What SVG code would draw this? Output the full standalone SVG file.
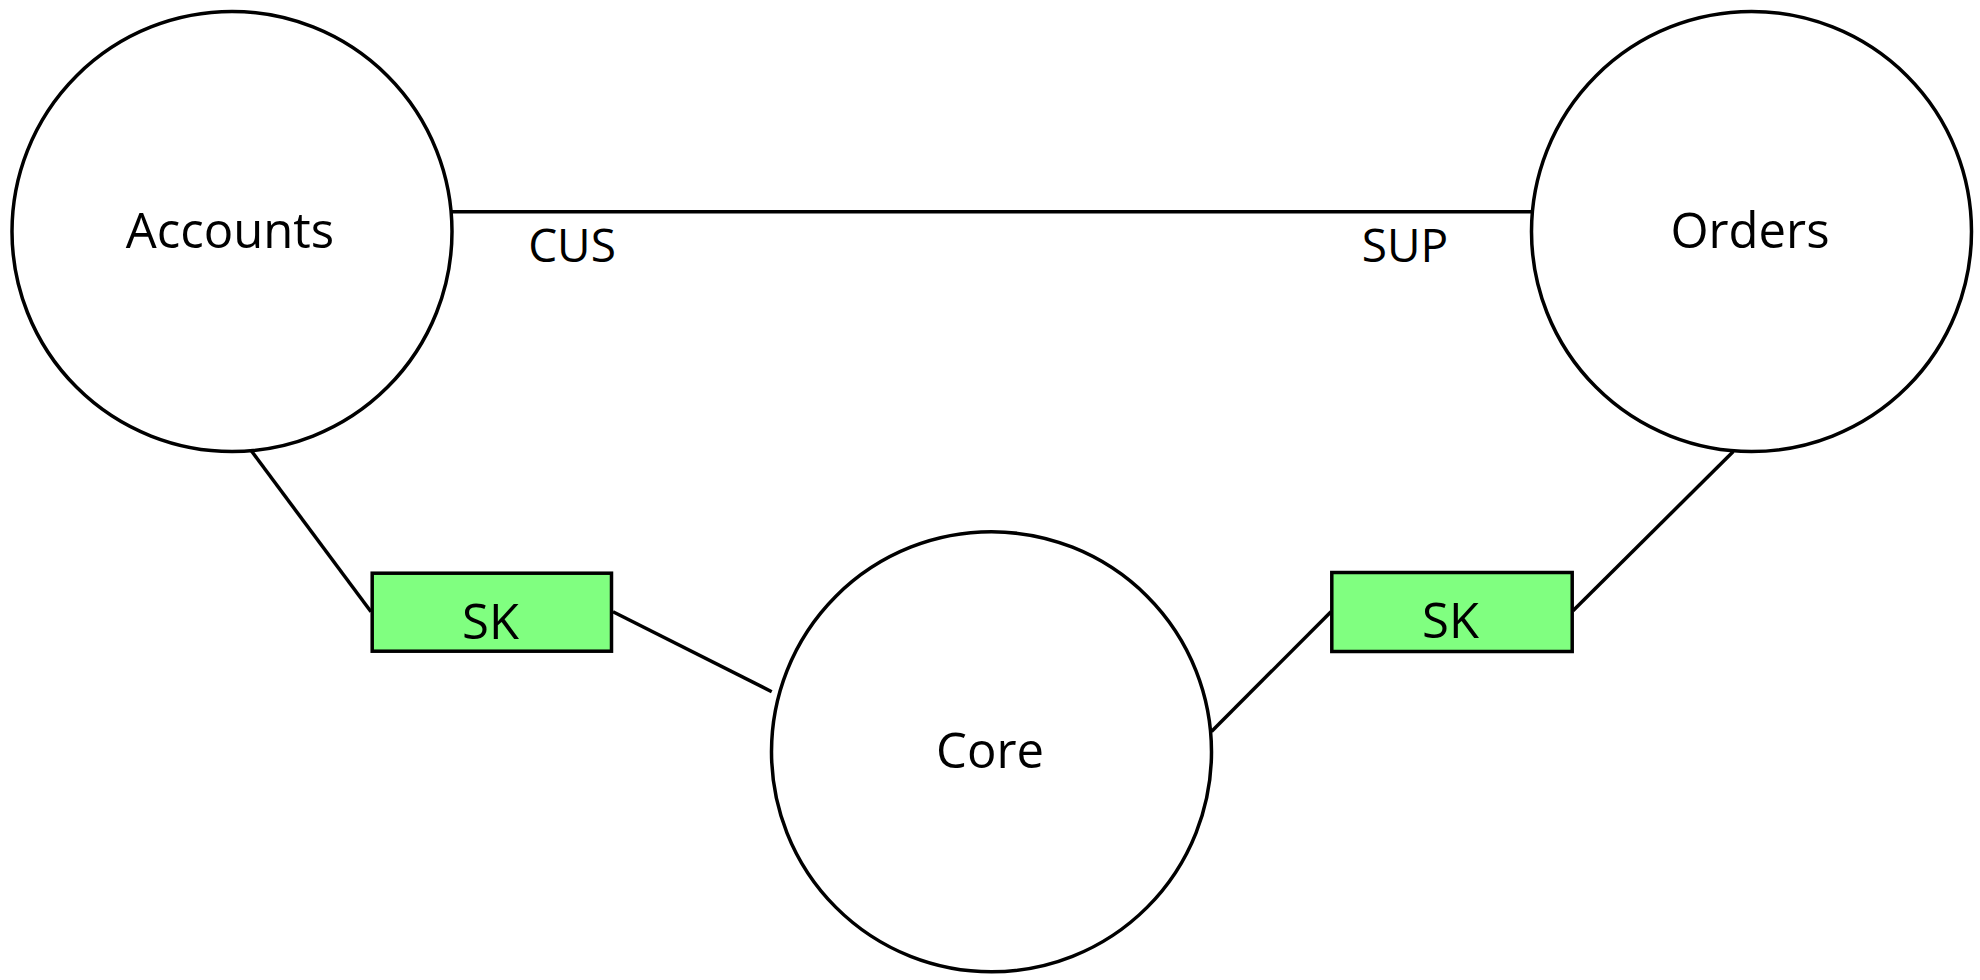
<svg xmlns="http://www.w3.org/2000/svg" width="1980" height="980" viewBox="0 0 1980 980">
<style>
.node{fill:#ffffff;stroke:#000000;stroke-width:3.5}
.sk{fill:#80ff80;stroke:#000000;stroke-width:3.5}
.edge{stroke:#000000;stroke-width:3.5;fill:none}
.t{font-family:"Open Sans","Noto Sans","DejaVu Sans",sans-serif;font-size:49px;fill:#000000;text-anchor:middle}
.lbl{font-family:"Open Sans","Noto Sans","DejaVu Sans",sans-serif;font-size:46px;fill:#000000;text-anchor:middle}
</style>
<rect width="1980" height="980" fill="#ffffff"/>
<g id="connectors">
<line class="edge" x1="451.7" y1="211.7" x2="1531.7" y2="211.7"/>
<line class="edge" x1="251.3" y1="450.8" x2="371" y2="611.7"/>
<line class="edge" x1="613" y1="611.7" x2="771.7" y2="691.7"/>
<line class="edge" x1="1211.5" y1="731.5" x2="1331" y2="611.7"/>
<line class="edge" x1="1573" y1="610.7" x2="1733.3" y2="451.5"/>
<text class="lbl" x="572" y="261.7">CUS</text>
<text class="lbl" x="1405" y="261.7">SUP</text>
</g>
<g id="accounts">
<circle class="node" cx="232" cy="231.5" r="220"/>
<text class="t" x="230" y="248.3">Accounts</text>
</g>
<g id="orders">
<circle class="node" cx="1751.5" cy="231.5" r="220"/>
<text class="t" x="1750" y="248.3">Orders</text>
</g>
<g id="core">
<circle class="node" cx="991.5" cy="751.8" r="220"/>
<text class="t" x="990" y="768.3">Core</text>
</g>
<g id="sk-left">
<rect class="sk" x="372.2" y="573.2" width="239.3" height="78"/>
<text class="t" x="490.5" y="639">SK</text>
</g>
<g id="sk-right">
<rect class="sk" x="1331.8" y="572.5" width="240.4" height="79"/>
<text class="t" x="1450.5" y="638">SK</text>
</g>
</svg>
